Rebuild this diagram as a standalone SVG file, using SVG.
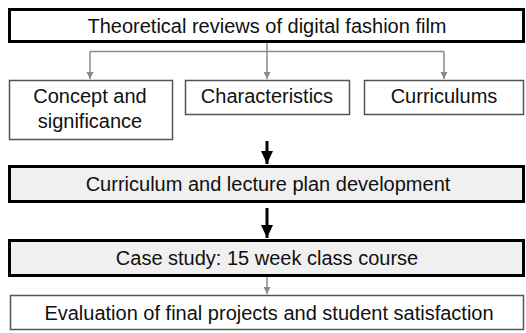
<svg xmlns="http://www.w3.org/2000/svg" width="526" height="333" viewBox="0 0 526 333">
<defs>
<style>
text{font-family:"Liberation Sans",Arial,sans-serif;font-size:20px;fill:#111;text-anchor:middle}
.thick{fill:#fff;stroke:#000;stroke-width:3}
.shade{fill:#f0f0f0;stroke:#000;stroke-width:3}
.thin{fill:#fff;stroke:#555;stroke-width:1.5}
.gl{fill:none;stroke:#8a8a8a;stroke-width:1.5}
.bl{fill:none;stroke:#000;stroke-width:3}
</style>
<marker id="ga" markerWidth="8" markerHeight="8" refX="7" refY="4" orient="auto" markerUnits="userSpaceOnUse"><path d="M0,0.5 L7,4 L0,7.5Z" fill="#8a8a8a"/></marker>
<marker id="ba" markerWidth="14" markerHeight="14" refX="13" refY="7" orient="auto" markerUnits="userSpaceOnUse"><path d="M0,1 L13,7 L0,13Z" fill="#000"/></marker>
</defs>
<g id="n1"><rect class="thick" x="9.5" y="9.5" width="514" height="32"/><text x="267" y="33">Theoretical reviews of digital fashion film</text></g>
<g id="n2"><rect class="thin" x="9.5" y="80.5" width="163" height="59"/><text x="90" y="103">Concept and</text><text x="90" y="128">significance</text></g>
<g id="n3"><rect class="thin" x="185.5" y="80.5" width="164" height="34"/><text x="267" y="103">Characteristics</text></g>
<g id="n4"><rect class="thin" x="364.5" y="80.5" width="159" height="34"/><text x="444" y="103">Curriculums</text></g>
<g id="n5"><rect class="shade" x="9.5" y="166.5" width="514" height="35"/><text x="268" y="191">Curriculum and lecture plan development</text></g>
<g id="n6"><rect class="shade" x="9.5" y="240.5" width="514" height="35"/><text x="267" y="265">Case study: 15 week class course</text></g>
<g id="n7"><rect class="thin" x="10.5" y="295.5" width="513" height="34"/><text x="269" y="320">Evaluation of final projects and student satisfaction</text></g>
<g id="edges">
<path class="gl" d="M267,43 V51.5 M90,51.5 H444"/>
<path class="gl" d="M90,51.5 V79" marker-end="url(#ga)"/>
<path class="gl" d="M267,51.5 V79" marker-end="url(#ga)"/>
<path class="gl" d="M444,51.5 V79" marker-end="url(#ga)"/>
<path class="bl" d="M267,141 V164" marker-end="url(#ba)"/>
<path class="bl" d="M267,208 V238" marker-end="url(#ba)"/>
<path class="gl" d="M267,277 V294" marker-end="url(#ga)"/>
</g>
</svg>
